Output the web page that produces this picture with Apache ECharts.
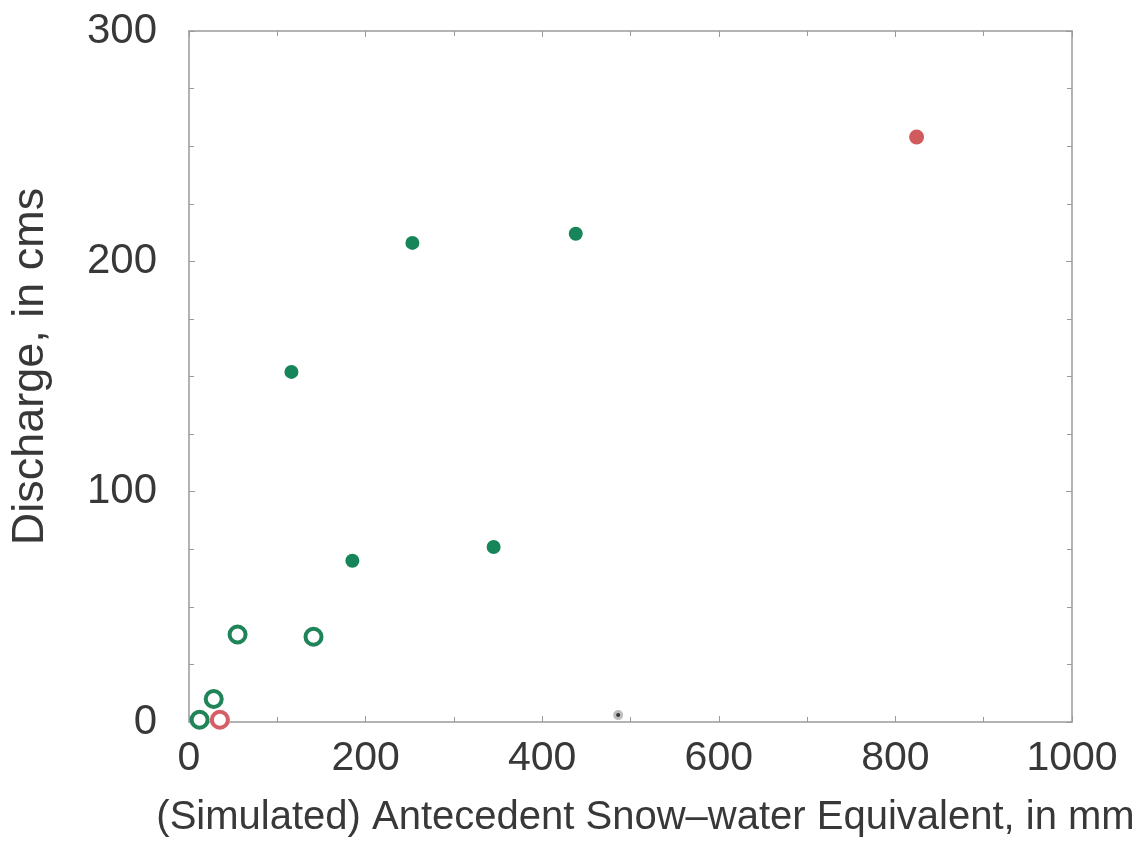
<!DOCTYPE html>
<html>
<head>
<meta charset="utf-8">
<script src="https://cdn.jsdelivr.net/npm/echarts@6/dist/echarts.min.js"></script>
<style>
  html, body { margin: 0; padding: 0; background: #fff; }
  #chart { width: 1146px; height: 846px; }
</style>
</head>
<body>
<div id="chart"></div>
<script>
// snow-water equivalent (mm) vs discharge (cms)
const greenFilled = [[116, 152], [185, 70], [253, 208], [345, 76], [438, 212]]
const greenOpen = [[12, 1], [28, 10], [55, 38], [141, 37]]
const redFilled = [[824, 254]]
const redOpen = [[35, 1]]
const grayPoint = [[486, 3]]

const xTicks = [0, 200, 400, 600, 800, 1000]
const yTicks = [0, 100, 200, 300]

const axisColor = '#9a9a9a'
const textColor = '#383838'
const labelFont = 'Liberation Sans, Arial, Helvetica, sans-serif'

const chart = echarts.init(document.getElementById('chart'))

function frameAxis(pos) {
  return {
    axisLine: { show: true, onZero: false, lineStyle: { color: axisColor, width: 1.5 } },
    axisTick: { show: true, inside: true, length: 6, lineStyle: { color: axisColor } },
    minorTick: { show: true, splitNumber: pos === 'y' ? 4 : 2, length: 5, lineStyle: { color: axisColor } },
    splitLine: { show: false },
    axisLabel: { show: false }
  }
}

chart.setOption({
  animation: false,
  grid: { left: 187, right: 74, top: 31, bottom: 124 },
  xAxis: [{
    type: 'value',
    position: 'bottom',
    min: xTicks[0],
    max: xTicks[xTicks.length - 1],
    interval: 200,
    name: '(Simulated) Antecedent Snow\u2013water Equivalent, in mm',
    nameLocation: 'middle',
    nameGap: 76,
    nameTextStyle: { fontSize: 40, color: textColor, fontFamily: labelFont, padding: [0, 0, 0, 30] },
    ...frameAxis('x'),
    axisLabel: {
      show: true, margin: 16, fontSize: 41, color: textColor, fontFamily: labelFont,
      formatter: v => String(v)
    }
  }, {
    type: 'value',
    position: 'top',
    min: xTicks[0],
    max: xTicks[xTicks.length - 1],
    interval: 200,
    ...frameAxis('x')
  }],
  yAxis: [{
    type: 'value',
    position: 'left',
    min: yTicks[0],
    max: yTicks[yTicks.length - 1],
    interval: 100,
    name: 'Discharge, in cms',
    nameLocation: 'middle',
    nameGap: 136,
    nameTextStyle: { fontSize: 45, color: textColor, fontFamily: labelFont, padding: [0, 0, 0, 20] },
    ...frameAxis('y'),
    axisLabel: {
      show: true, margin: 32, fontSize: 42, color: textColor, fontFamily: labelFont,
      formatter: v => String(v)
    }
  }, {
    type: 'value',
    position: 'right',
    min: yTicks[0],
    max: yTicks[yTicks.length - 1],
    interval: 100,
    ...frameAxis('y')
  }],
  series: [{
    type: 'scatter',
    data: greenFilled,
    symbolSize: 14,
    itemStyle: { color: '#17855a', opacity: 1 }
  }, {
    type: 'scatter',
    data: greenOpen,
    symbolSize: 16,
    itemStyle: { color: '#ffffff', borderColor: '#1f8458', borderWidth: 4, opacity: 1 }
  }, {
    type: 'scatter',
    data: redFilled,
    symbolSize: 15,
    itemStyle: { color: '#d05a5c', opacity: 1 }
  }, {
    type: 'scatter',
    data: redOpen,
    symbolSize: 16,
    itemStyle: { color: '#ffffff', borderColor: '#d65e66', borderWidth: 4, opacity: 1 }
  }, {
    type: 'scatter',
    data: grayPoint,
    symbolSize: 7,
    itemStyle: { color: '#333333', borderColor: '#bdbdbd', borderWidth: 3, opacity: 1 }
  }]
})
</script>
</body>
</html>
